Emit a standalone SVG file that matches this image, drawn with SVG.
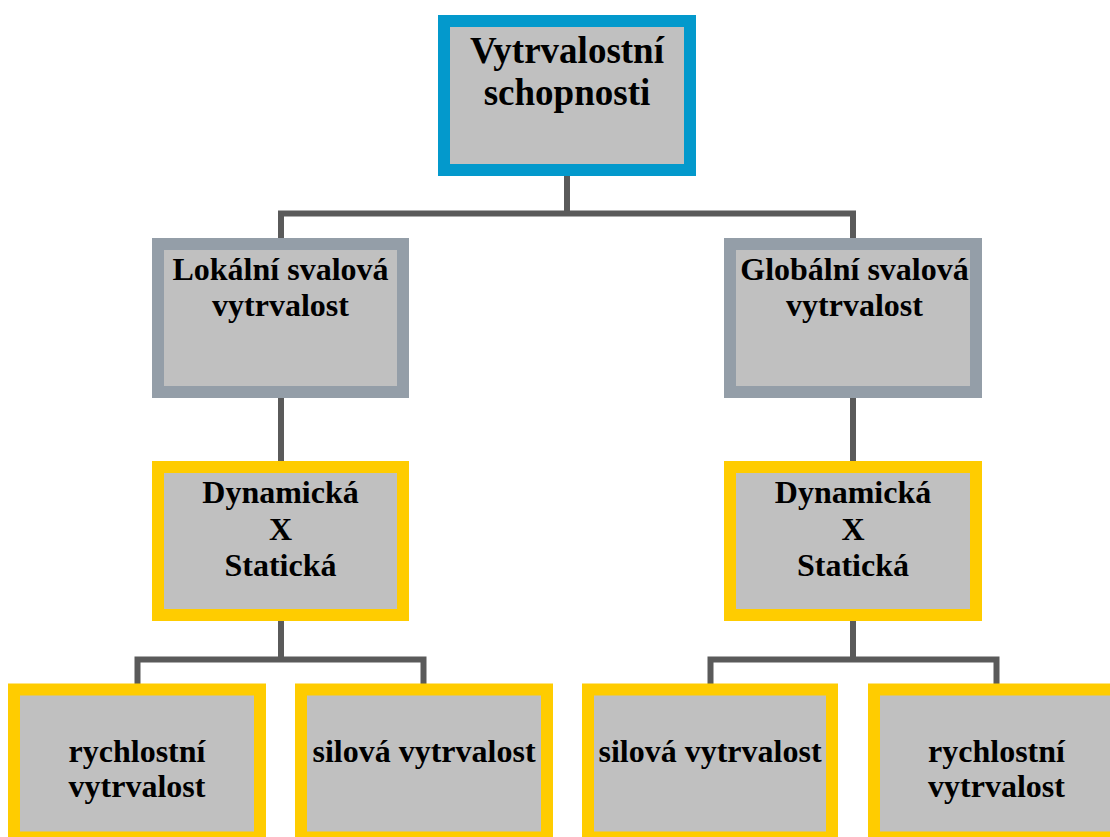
<svg xmlns="http://www.w3.org/2000/svg" width="1110" height="837" viewBox="0 0 1110 837">
  <style>
    .box { fill: #c0c0c0; stroke-width: 12; }
    .root { stroke: #0399cc; }
    .mid { stroke: #949ea8; }
    .leaf { stroke: #ffcc00; }
    .lbl { font-family: "Liberation Serif", "Times New Roman", serif; font-weight: bold; font-size: 32px; fill: #000; text-anchor: middle; }
    .big { font-size: 37px; }
    .link { fill: none; stroke: #5a5a5a; stroke-width: 6; stroke-linejoin: miter; stroke-linecap: butt; }
  </style>
  <rect width="1110" height="837" fill="#fff"/>

  <!-- connectors -->
  <g id="connectors">
    <path class="link" d="M567 176 V213.5"/>
    <path class="link" d="M281 238 V213.5 H853 V238"/>
    <path class="link" d="M281 398 V461"/>
    <path class="link" d="M853 398 V461"/>
    <path class="link" d="M281 621 V659.5"/>
    <path class="link" d="M137.5 684 V659.5 H423.5 V684"/>
    <path class="link" d="M853 621 V659.5"/>
    <path class="link" d="M710.5 684 V659.5 H996.5 V684"/>
  </g>

  <!-- root -->
  <g id="node-vytrvalostni-schopnosti">
    <rect class="box root" x="444" y="21" width="246" height="149"/>
    <text class="lbl big" x="567" y="63">Vytrvalostní</text>
    <text class="lbl big" x="567" y="105">schopnosti</text>
  </g>

  <!-- second level -->
  <g id="node-lokalni">
    <rect class="box mid" x="158" y="244" width="245" height="148"/>
    <text class="lbl" x="280.5" y="280">Lokální svalová</text>
    <text class="lbl" x="280.5" y="316">vytrvalost</text>
  </g>
  <g id="node-globalni">
    <rect class="box mid" x="730" y="244" width="246" height="148"/>
    <text class="lbl" x="854.5" y="280">Globální svalová</text>
    <text class="lbl" x="854.5" y="316">vytrvalost</text>
  </g>

  <!-- third level -->
  <g id="node-dyn-stat-left">
    <rect class="box leaf" x="158" y="467" width="245" height="148"/>
    <text class="lbl" x="280.5" y="503">Dynamická</text>
    <text class="lbl" x="280.5" y="540">X</text>
    <text class="lbl" x="280.5" y="576">Statická</text>
  </g>
  <g id="node-dyn-stat-right">
    <rect class="box leaf" x="730" y="467" width="246" height="148"/>
    <text class="lbl" x="853" y="503">Dynamická</text>
    <text class="lbl" x="853" y="540">X</text>
    <text class="lbl" x="853" y="576">Statická</text>
  </g>

  <!-- leaves -->
  <g id="node-rychlostni-left">
    <rect class="box leaf" x="14" y="689.5" width="246" height="148"/>
    <text class="lbl" x="137" y="762">rychlostní</text>
    <text class="lbl" x="137" y="797">vytrvalost</text>
  </g>
  <g id="node-silova-left">
    <rect class="box leaf" x="301" y="689.5" width="246" height="148"/>
    <text class="lbl" x="424" y="762">silová vytrvalost</text>
  </g>
  <g id="node-silova-right">
    <rect class="box leaf" x="588" y="689.5" width="244" height="148"/>
    <text class="lbl" x="710" y="762">silová vytrvalost</text>
  </g>
  <g id="node-rychlostni-right">
    <rect class="box leaf" x="874" y="689.5" width="246" height="148"/>
    <text class="lbl" x="996.5" y="762">rychlostní</text>
    <text class="lbl" x="996.5" y="797">vytrvalost</text>
  </g>
</svg>
